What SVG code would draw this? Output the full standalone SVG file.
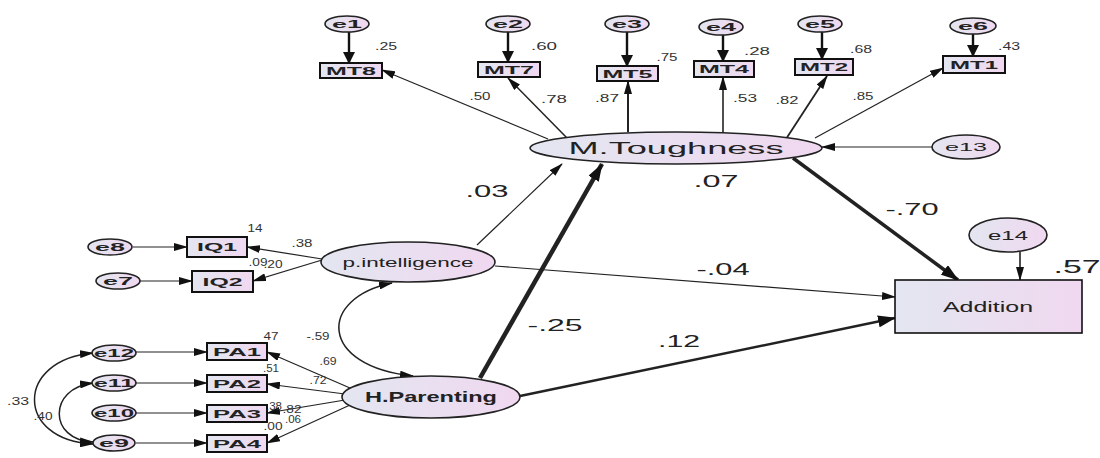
<svg xmlns="http://www.w3.org/2000/svg" width="1100" height="458" viewBox="0 0 1100 458">
<defs>
<linearGradient id="fillg" x1="0" y1="0" x2="1" y2="0">
<stop offset="0" stop-color="#e3e6f0"/>
<stop offset="1" stop-color="#f0d8f0"/>
</linearGradient>
<marker id="ah" markerUnits="userSpaceOnUse" markerWidth="14" markerHeight="8" refX="13" refY="4" orient="auto-start-reverse">
<path d="M0,0 L14,4 L0,8 Z" fill="#111"/>
</marker>
<marker id="ahb" markerUnits="userSpaceOnUse" markerWidth="18" markerHeight="12" refX="17" refY="6" orient="auto-start-reverse">
<path d="M0,0 L18,6 L0,12 Z" fill="#111"/>
</marker>
<marker id="ahe" markerUnits="userSpaceOnUse" markerWidth="12" markerHeight="12" refX="11" refY="6" orient="auto">
<path d="M0,0 L12,6 L0,12 Z" fill="#111"/>
</marker>
</defs>
<style>
.n{fill:url(#fillg);stroke:#222;stroke-width:1.6}
.b{fill:url(#fillg);stroke:#111;stroke-width:2}
.t{font-family:"Liberation Sans",Arial,sans-serif;fill:#222;text-anchor:middle}
.lab{font-size:11px;font-weight:bold}
.big{font-size:16px}
.num{font-family:"Liberation Sans",Arial,sans-serif;fill:#333;font-size:10px;text-anchor:middle}
.numb{font-family:"Liberation Sans",Arial,sans-serif;fill:#222;font-size:16px;text-anchor:middle}
.c{fill:none;stroke:#222;stroke-width:1.2}
.ce{fill:none;stroke:#111;stroke-width:2.4}
</style>
<rect width="1100" height="458" fill="#fff"/>

<g id="connectors">
<!-- error arrows top -->
<line class="ce" x1="349" y1="32" x2="349" y2="63" marker-end="url(#ahe)"/>
<line class="ce" x1="508" y1="32" x2="508" y2="62" marker-end="url(#ahe)"/>
<line class="ce" x1="627" y1="32" x2="627" y2="66" marker-end="url(#ahe)"/>
<line class="ce" x1="723" y1="35" x2="723" y2="61" marker-end="url(#ahe)"/>
<line class="ce" x1="822" y1="32" x2="822" y2="59" marker-end="url(#ahe)"/>
<line class="ce" x1="973" y1="34" x2="973" y2="56" marker-end="url(#ahe)"/>
<!-- M.Toughness to indicators -->
<line class="c" x1="548" y1="139" x2="382" y2="70" marker-end="url(#ah)"/>
<line class="c" style="stroke-width:1.5" x1="568" y1="139" x2="508" y2="78" marker-end="url(#ah)"/>
<line class="c" style="stroke-width:2" x1="628" y1="132" x2="628" y2="81" marker-end="url(#ah)"/>
<line class="c" style="stroke-width:1.6" x1="723" y1="132" x2="723" y2="77" marker-end="url(#ah)"/>
<line class="c" style="stroke-width:1.8" x1="786" y1="139" x2="827" y2="76" marker-end="url(#ah)"/>
<line class="c" x1="815" y1="138" x2="943" y2="68" marker-end="url(#ah)"/>
<!-- e13 -->
<line class="c" x1="932" y1="147" x2="822" y2="147" marker-end="url(#ah)"/>
<!-- e14 -->
<line class="c" style="stroke-width:1.6" x1="1020" y1="252" x2="1020" y2="280" marker-end="url(#ah)"/>
<!-- structural -->
<line class="c" x1="477" y1="245" x2="562" y2="164" marker-end="url(#ah)"/>
<line class="c" style="stroke-width:4.5" x1="480" y1="378" x2="602" y2="164" marker-end="url(#ahb)"/>
<line class="c" style="stroke-width:3.5" x1="793" y1="158" x2="958" y2="280" marker-end="url(#ahb)"/>
<line class="c" x1="495" y1="266" x2="895" y2="297" marker-end="url(#ah)"/>
<line class="c" style="stroke-width:2.5" x1="520" y1="396" x2="895" y2="318" marker-end="url(#ahb)"/>
<!-- covariance p.int / H.Parenting -->
<path class="c" style="stroke-width:1.5" d="M392,283 C318,298 318,366 413,376" marker-start="url(#ah)" marker-end="url(#ah)"/>
<!-- IQ -->
<line class="c" x1="133" y1="247" x2="187" y2="247" marker-end="url(#ah)"/>
<line class="c" x1="140" y1="281" x2="192" y2="281" marker-end="url(#ah)"/>
<line class="c" x1="322" y1="259" x2="247" y2="247" marker-end="url(#ah)"/>
<line class="c" x1="322" y1="260" x2="253" y2="281" marker-end="url(#ah)"/>
<!-- PA -->
<line class="c" x1="136" y1="352" x2="207" y2="352" marker-end="url(#ah)"/>
<line class="c" x1="136" y1="383" x2="207" y2="383" marker-end="url(#ah)"/>
<line class="c" x1="136" y1="413" x2="207" y2="413" marker-end="url(#ah)"/>
<line class="c" x1="136" y1="443" x2="207" y2="443" marker-end="url(#ah)"/>
<line class="c" x1="350" y1="388" x2="267" y2="352" marker-end="url(#ah)"/>
<line class="c" x1="345" y1="394" x2="267" y2="384" marker-end="url(#ah)"/>
<line class="c" x1="345" y1="400" x2="267" y2="413" marker-end="url(#ah)"/>
<line class="c" x1="350" y1="405" x2="267" y2="443" marker-end="url(#ah)"/>
<!-- covariances errors -->
<path class="c" style="stroke-width:1.5" d="M93,353 C15,360 15,440 93,444" marker-start="url(#ah)" marker-end="url(#ah)"/>
<path class="c" style="stroke-width:1.5" d="M93,383 C48,388 48,440 93,442" marker-start="url(#ah)" marker-end="url(#ah)"/>
</g>

<!-- top error terms and indicators -->
<g id="e1"><ellipse class="n" cx="347" cy="24" rx="22" ry="8"/><text class="t lab" x="347" y="28" textLength="30" lengthAdjust="spacingAndGlyphs">e1</text></g>
<g id="e2"><ellipse class="n" cx="508" cy="24" rx="22" ry="8"/><text class="t lab" x="508" y="28" textLength="30" lengthAdjust="spacingAndGlyphs">e2</text></g>
<g id="e3"><ellipse class="n" cx="627" cy="24" rx="22" ry="8"/><text class="t lab" x="627" y="28" textLength="30" lengthAdjust="spacingAndGlyphs">e3</text></g>
<g id="e4"><ellipse class="n" cx="721" cy="27" rx="22" ry="8"/><text class="t lab" x="721" y="31" textLength="30" lengthAdjust="spacingAndGlyphs">e4</text></g>
<g id="e5"><ellipse class="n" cx="820" cy="24" rx="22" ry="8"/><text class="t lab" x="820" y="28" textLength="30" lengthAdjust="spacingAndGlyphs">e5</text></g>
<g id="e6"><ellipse class="n" cx="973" cy="26" rx="23" ry="8"/><text class="t lab" x="973" y="30" textLength="30" lengthAdjust="spacingAndGlyphs">e6</text></g>

<g id="MT8"><rect class="b" x="320" y="63" width="62" height="15"/><text class="t lab" x="351" y="74.5" textLength="50" lengthAdjust="spacingAndGlyphs">MT8</text></g>
<g id="MT7"><rect class="b" x="478" y="62" width="62" height="15"/><text class="t lab" x="509" y="73.5" textLength="50" lengthAdjust="spacingAndGlyphs">MT7</text></g>
<g id="MT5"><rect class="b" x="597" y="66" width="61" height="15"/><text class="t lab" x="627.5" y="77.5" textLength="50" lengthAdjust="spacingAndGlyphs">MT5</text></g>
<g id="MT4"><rect class="b" x="694" y="61" width="60" height="16"/><text class="t lab" x="724" y="73" textLength="50" lengthAdjust="spacingAndGlyphs">MT4</text></g>
<g id="MT2"><rect class="b" x="795" y="59" width="58" height="16"/><text class="t lab" x="824" y="71" textLength="48" lengthAdjust="spacingAndGlyphs">MT2</text></g>
<g id="MT1"><rect class="b" x="943" y="56" width="62" height="17"/><text class="t lab" x="974" y="68.5" textLength="48" lengthAdjust="spacingAndGlyphs">MT1</text></g>

<g id="MToughness"><ellipse class="n" cx="676" cy="148" rx="146" ry="16"/><text class="t big" x="676" y="154" textLength="215" lengthAdjust="spacingAndGlyphs">M.Toughness</text></g>
<g id="e13"><ellipse class="n" cx="966" cy="147" rx="34" ry="12"/><text class="t lab" x="966" y="151" textLength="42" lengthAdjust="spacingAndGlyphs" style="font-weight:normal">e13</text></g>

<g id="Addition"><rect class="b" style="stroke-width:1.6" x="895" y="280" width="187" height="53"/><text class="t" style="font-size:14px" x="988" y="312" textLength="90" lengthAdjust="spacingAndGlyphs">Addition</text></g>
<g id="e14"><ellipse class="n" cx="1008" cy="235" rx="39" ry="17"/><text class="t" style="font-size:13px" x="1008" y="240" textLength="40" lengthAdjust="spacingAndGlyphs">e14</text></g>

<g id="pintelligence"><ellipse class="n" cx="408" cy="262" rx="87" ry="20"/><text class="t" style="font-size:13px" x="408" y="267" textLength="131" lengthAdjust="spacingAndGlyphs">p.intelligence</text></g>
<g id="HParenting"><ellipse class="n" cx="431" cy="397" rx="89" ry="21"/><text class="t" style="font-size:15px;font-weight:bold" x="431" y="402" textLength="132" lengthAdjust="spacingAndGlyphs">H.Parenting</text></g>

<g id="IQ1"><rect class="b" x="187" y="237" width="60" height="20"/><text class="t lab" x="217" y="251" textLength="40" lengthAdjust="spacingAndGlyphs">IQ1</text></g>
<g id="IQ2"><rect class="b" x="192" y="271" width="61" height="21"/><text class="t lab" x="222.5" y="285.5" textLength="40" lengthAdjust="spacingAndGlyphs">IQ2</text></g>
<g id="e8"><ellipse class="n" cx="110" cy="247" rx="22" ry="8"/><text class="t lab" x="110" y="251" textLength="30" lengthAdjust="spacingAndGlyphs">e8</text></g>
<g id="e7"><ellipse class="n" cx="118" cy="281" rx="22" ry="8"/><text class="t lab" x="118" y="285" textLength="30" lengthAdjust="spacingAndGlyphs">e7</text></g>

<g id="PA1"><rect class="b" x="207" y="343" width="60" height="17"/><text class="t lab" x="237" y="355.5" textLength="48" lengthAdjust="spacingAndGlyphs">PA1</text></g>
<g id="PA2"><rect class="b" x="207" y="375" width="60" height="17"/><text class="t lab" x="237" y="387.5" textLength="48" lengthAdjust="spacingAndGlyphs">PA2</text></g>
<g id="PA3"><rect class="b" x="207" y="405" width="60" height="17"/><text class="t lab" x="237" y="417.5" textLength="48" lengthAdjust="spacingAndGlyphs">PA3</text></g>
<g id="PA4"><rect class="b" x="207" y="435" width="60" height="17"/><text class="t lab" x="237" y="447.5" textLength="48" lengthAdjust="spacingAndGlyphs">PA4</text></g>
<g id="e12"><ellipse class="n" cx="114" cy="353" rx="22" ry="8"/><text class="t lab" x="114" y="357" textLength="40" lengthAdjust="spacingAndGlyphs">e12</text></g>
<g id="e11"><ellipse class="n" cx="114" cy="383" rx="22" ry="8"/><text class="t lab" x="114" y="387" textLength="40" lengthAdjust="spacingAndGlyphs">e11</text></g>
<g id="e10"><ellipse class="n" cx="114" cy="413" rx="22" ry="8"/><text class="t lab" x="114" y="417" textLength="40" lengthAdjust="spacingAndGlyphs">e10</text></g>
<g id="e9"><ellipse class="n" cx="114" cy="443" rx="21" ry="8"/><text class="t lab" x="114" y="447" textLength="30" lengthAdjust="spacingAndGlyphs">e9</text></g>

<g id="labels">
<text class="num" x="386" y="50" textLength="22" lengthAdjust="spacingAndGlyphs">.25</text>
<text class="num" x="544" y="50" textLength="26" lengthAdjust="spacingAndGlyphs">.60</text>
<text class="num" x="667" y="61" textLength="21" lengthAdjust="spacingAndGlyphs">.75</text>
<text class="num" x="757" y="55" textLength="26" lengthAdjust="spacingAndGlyphs">.28</text>
<text class="num" x="861" y="53" textLength="22" lengthAdjust="spacingAndGlyphs">.68</text>
<text class="num" x="1009" y="50" textLength="22" lengthAdjust="spacingAndGlyphs">.43</text>
<text class="num" x="480" y="100" textLength="21" lengthAdjust="spacingAndGlyphs">.50</text>
<text class="num" x="554" y="103" textLength="26" lengthAdjust="spacingAndGlyphs">.78</text>
<text class="num" x="607" y="102" textLength="24" lengthAdjust="spacingAndGlyphs">.87</text>
<text class="num" x="745" y="102" textLength="24" lengthAdjust="spacingAndGlyphs">.53</text>
<text class="num" x="787" y="104" textLength="23" lengthAdjust="spacingAndGlyphs">.82</text>
<text class="num" x="863" y="100" textLength="21" lengthAdjust="spacingAndGlyphs">.85</text>
<text class="numb" x="716" y="187" textLength="45" lengthAdjust="spacingAndGlyphs">.07</text>
<text class="numb" x="487" y="197" textLength="43" lengthAdjust="spacingAndGlyphs">.03</text>
<text class="numb" x="912" y="215" textLength="53" lengthAdjust="spacingAndGlyphs">-.70</text>
<text class="numb" x="723" y="275" textLength="53" lengthAdjust="spacingAndGlyphs">-.04</text>
<text class="numb" x="555" y="331" textLength="55" lengthAdjust="spacingAndGlyphs">-.25</text>
<text class="numb" x="679" y="347" textLength="42" lengthAdjust="spacingAndGlyphs">.12</text>
<text class="numb" style="font-size:18px" x="1077" y="273" textLength="47" lengthAdjust="spacingAndGlyphs">.57</text>
<text class="num" x="255" y="232" textLength="15" lengthAdjust="spacingAndGlyphs">14</text>
<text class="num" x="302" y="247" textLength="21" lengthAdjust="spacingAndGlyphs">.38</text>
<text class="num" x="258" y="266" textLength="19" lengthAdjust="spacingAndGlyphs">.09</text>
<text class="num" x="273" y="268" textLength="19" lengthAdjust="spacingAndGlyphs">.20</text>
<text class="num" x="271" y="340" textLength="15" lengthAdjust="spacingAndGlyphs">47</text>
<text class="num" x="318" y="340" textLength="23" lengthAdjust="spacingAndGlyphs">-.59</text>
<text class="num" x="328" y="365" textLength="17" lengthAdjust="spacingAndGlyphs">.69</text>
<text class="num" x="271" y="372" textLength="16" lengthAdjust="spacingAndGlyphs">.51</text>
<text class="num" x="318" y="384" textLength="17" lengthAdjust="spacingAndGlyphs">.72</text>
<text class="num" x="274" y="410" textLength="16" lengthAdjust="spacingAndGlyphs">.38</text>
<text class="num" x="292" y="413" textLength="19" lengthAdjust="spacingAndGlyphs">.82</text>
<text class="num" x="293" y="423" textLength="16" lengthAdjust="spacingAndGlyphs">.06</text>
<text class="num" x="273" y="430" textLength="19" lengthAdjust="spacingAndGlyphs">.00</text>
<text class="num" x="18" y="405" textLength="22" lengthAdjust="spacingAndGlyphs">.33</text>
<text class="num" x="43" y="420" textLength="19" lengthAdjust="spacingAndGlyphs">.40</text>
</g>
</svg>
